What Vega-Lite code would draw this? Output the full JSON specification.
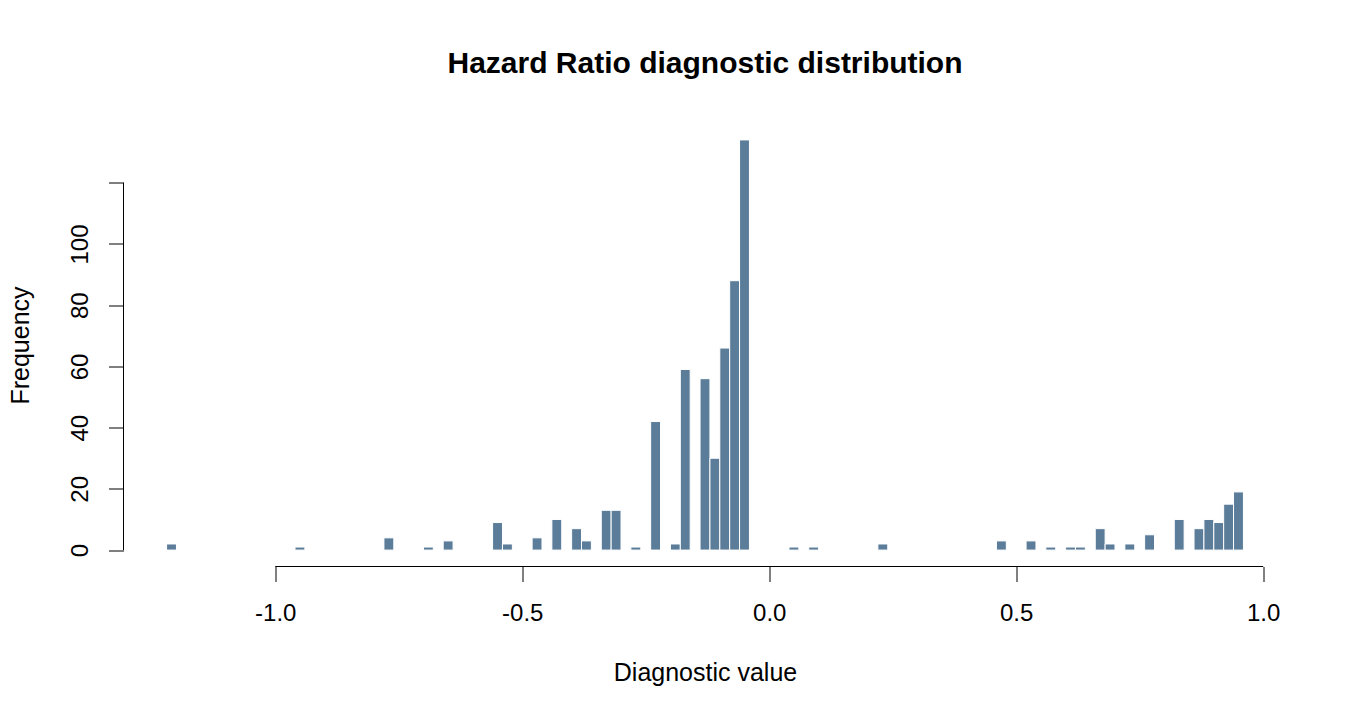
{
  "$schema": "https://vega.github.io/schema/vega-lite/v6.json",
  "width": 1163,
  "height": 443,
  "autosize": {"type": "none"},
  "padding": {"left": 123.5, "top": 123.5, "right": 63.5, "bottom": 153.5},
  "background": "white",
  "config": {"view": {"stroke": null}, "font": "Liberation Sans"},
  "title": {
    "text": "Hazard Ratio diagnostic distribution",
    "font": "Liberation Sans",
    "fontSize": 30,
    "fontWeight": "bold",
    "color": "black",
    "anchor": "middle",
    "frame": "group",
    "baseline": "alphabetic",
    "offset": 21
  },
  "layer": [
    {
      "data": {
        "values": [
          {"start": -1.22, "end": -1.20, "count": 2},
          {"start": -0.96, "end": -0.94, "count": 1},
          {"start": -0.78, "end": -0.76, "count": 4},
          {"start": -0.70, "end": -0.68, "count": 1},
          {"start": -0.66, "end": -0.64, "count": 3},
          {"start": -0.56, "end": -0.54, "count": 9},
          {"start": -0.54, "end": -0.52, "count": 2},
          {"start": -0.48, "end": -0.46, "count": 4},
          {"start": -0.44, "end": -0.42, "count": 10},
          {"start": -0.40, "end": -0.38, "count": 7},
          {"start": -0.38, "end": -0.36, "count": 3},
          {"start": -0.34, "end": -0.32, "count": 13},
          {"start": -0.32, "end": -0.30, "count": 13},
          {"start": -0.28, "end": -0.26, "count": 1},
          {"start": -0.24, "end": -0.22, "count": 42},
          {"start": -0.20, "end": -0.18, "count": 2},
          {"start": -0.18, "end": -0.16, "count": 59},
          {"start": -0.14, "end": -0.12, "count": 56},
          {"start": -0.12, "end": -0.10, "count": 30},
          {"start": -0.10, "end": -0.08, "count": 66},
          {"start": -0.08, "end": -0.06, "count": 88},
          {"start": -0.06, "end": -0.04, "count": 134},
          {"start": 0.04, "end": 0.06, "count": 1},
          {"start": 0.08, "end": 0.10, "count": 1},
          {"start": 0.22, "end": 0.24, "count": 2},
          {"start": 0.46, "end": 0.48, "count": 3},
          {"start": 0.52, "end": 0.54, "count": 3},
          {"start": 0.56, "end": 0.58, "count": 1},
          {"start": 0.60, "end": 0.62, "count": 1},
          {"start": 0.62, "end": 0.64, "count": 1},
          {"start": 0.66, "end": 0.68, "count": 7},
          {"start": 0.68, "end": 0.70, "count": 2},
          {"start": 0.72, "end": 0.74, "count": 2},
          {"start": 0.76, "end": 0.78, "count": 5},
          {"start": 0.82, "end": 0.84, "count": 10},
          {"start": 0.86, "end": 0.88, "count": 7},
          {"start": 0.88, "end": 0.90, "count": 10},
          {"start": 0.90, "end": 0.92, "count": 9},
          {"start": 0.92, "end": 0.94, "count": 15},
          {"start": 0.94, "end": 0.96, "count": 19}
        ]
      },
      "mark": {"type": "bar", "color": "#5B7D9A", "stroke": "white", "strokeWidth": 1},
      "encoding": {
        "x": {
          "field": "start",
          "type": "quantitative",
          "scale": {"domain": [-1.3072, 1.0472], "nice": false, "zero": false},
          "axis": {
            "title": "Diagnostic value",
            "values": [-1, -0.5, 0, 0.5, 1],
            "labelExpr": "datum.value < 0 ? '-' + format(-datum.value, '.1f') : format(datum.value, '.1f')",
            "domain": false,
            "grid": false,
            "ticks": true,
            "tickSize": 15,
            "tickColor": "black",
            "tickWidth": 1,
            "labelFont": "Liberation Sans",
            "labelFontSize": 24,
            "labelColor": "black",
            "labelPadding": 20,
            "labelFlush": false,
            "labelOverlap": false,
            "titleFont": "Liberation Sans",
            "titleFontSize": 25,
            "titleFontWeight": "normal",
            "titleColor": "black",
            "titlePadding": 35
          }
        },
        "x2": {"field": "end"},
        "y": {
          "field": "count",
          "type": "quantitative",
          "scale": {"domain": [-5.36, 139.36], "nice": false, "zero": false},
          "axis": {
            "title": "Frequency",
            "values": [0, 20, 40, 60, 80, 100, 120],
            "labelExpr": "datum.value == 120 ? '' : datum.label",
            "labelAngle": -90,
            "labelAlign": "center",
            "labelBaseline": "bottom",
            "domain": false,
            "grid": false,
            "tickSize": 15,
            "tickColor": "black",
            "tickWidth": 1,
            "labelFont": "Liberation Sans",
            "labelFontSize": 24,
            "labelColor": "black",
            "labelPadding": 16,
            "labelFlush": false,
            "labelOverlap": false,
            "titleFont": "Liberation Sans",
            "titleFontSize": 25,
            "titleFontWeight": "normal",
            "titleColor": "black",
            "titlePadding": 35
          }
        },
        "y2": {"datum": 0}
      }
    },
    {
      "data": {"values": [{"from": -1, "to": 1, "at": -5.36}]},
      "mark": {"type": "rule", "color": "black", "strokeWidth": 1},
      "encoding": {
        "x": {"field": "from", "type": "quantitative", "title": "Diagnostic value"},
        "x2": {"field": "to"},
        "y": {"field": "at", "type": "quantitative", "title": "Frequency"}
      }
    },
    {
      "data": {"values": [{"from": 0, "to": 120, "at": -1.3072}]},
      "mark": {"type": "rule", "color": "black", "strokeWidth": 1},
      "encoding": {
        "y": {"field": "from", "type": "quantitative", "title": "Frequency"},
        "y2": {"field": "to"},
        "x": {"field": "at", "type": "quantitative", "title": "Diagnostic value"}
      }
    }
  ]
}
